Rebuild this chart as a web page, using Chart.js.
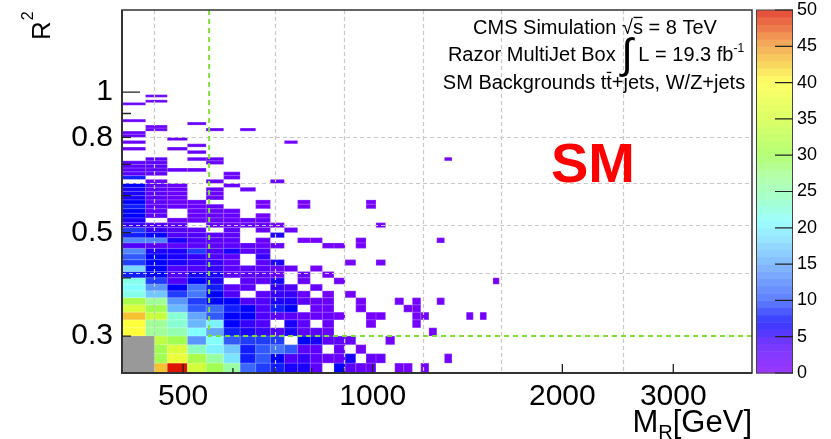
<!DOCTYPE html>
<html>
<head>
<meta charset="utf-8">
<script src="https://cdn.jsdelivr.net/npm/chart.js@4.4.1/dist/chart.umd.min.js"></script>
<style>
  html, body { margin: 0; padding: 0; background: #fff; }
  canvas { display: block; }
</style>
</head>
<body>
<canvas id="razor" width="831" height="439"></canvas>
<script>
// histogram binning: MR in linear 36 GeV bins, R2 in linear 0.0125 bins
const mrStart = 400, mrBinWidth = 36;
const r2Start = 0.25, r2BinWidth = 0.0125;

// event counts, one array per R2 row (row 0 = lowest R2), entries are MR bins from 400 GeV
const counts = [
  [0,43,50,35,30,26,11,9,8,6,6,3,0,7,3,2,2,0,0,1,1,0,1],
  [0,30,38,31,26,19,8,10,7,4,5,3,2,2,6,0,2,2,0,0,0,0,0,0,0,1],
  [0,30,36,24,20,17,8,10,12,10,3,3,0,2,0,1],
  [0,33,30,14,21,10,9,9,9,0,7,6,3,3,2,0,0,0,1],
  [40,27,25,21,15,8,6,5,4,6,3,3,2,0,0,0,0,0,0,0,0,0,0,1],
  [40,27,23,16,20,7,5,4,0,6,3,0,2,0,0,0,1,0,0,0,0,1],
  [43,34,23,15,10,7,7,4,3,3,2,2,2,1,0,0,1,1,0,0,0,1,1,0,0,0,0,0,1,0,1],
  [36,30,16,10,11,8,7,4,8,7,0,2,2,0,0,1,0,0,0,0,1,1],
  [31,27,14,9,7,7,4,4,6,6,3,2,2,0,0,1,0,0,0,1,0,1,0,0,1],
  [22,17,9,12,7,4,0,3,5,5,2,0,1,0,1],
  [21,14,7,12,8,3,3,0,5,4,0,2],
  [22,9,4,7,6,0,3,3,6,0,2,0,0,1,0,0,0,0,0,0,0,0,0,0,0,0,0,0,0,0,0,0,1],
  [8,7,4,6,6,3,3,3,2,0,2,0,1],
  [18,7,4,4,5,3,3,3,2,2,0,1],
  [9,7,6,5,5,3,0,3,6,0,0,0,0,0,1,0,0,1],
  [10,7,6,5,4,3,0,5],
  [13,6,6,9,4,6,3,4],
  [4,3,3,3,3,3,3,2,2,0,0,0,1,1,0,1],
  [13,13,6,4,3,3,0,2,0,0,1,1,0,0,0,1,0,0,0,0,0,0,0,0,1],
  [8,7,4,4,3,3,0,0,6],
  [9,5,4,3,0,3,0,2,0,2],
  [5,4,3,0,2,2,2,2,1,0,0,0,0,0,0,0,0,1],
  [6,0,2,2,2,2,2,2],
  [7,3,0,2,2,2,0,1],
  [7,3,0,2,2,2],
  [8,3,2,2,2,0,0,1,0,0,1,0,0,0,0,0,1],
  [7,3,2,2,0,0,0,1,0,0,1,0,0,0,0,0,1],
  [6,3,2,0,2],
  [6,3,2,0,2],
  [6,3,2,0,2,0,2],
  [7,3,2,0,0,2],
  [0,2,0,0,2,0,0,0,2],
  [8,0,0,0,0,2],
  [3,3,0,0,0,2],
  [3,3,2,2],
  [3,3],
  [3,3,0,0,2],
  [0,3,0,2,2,0,0,0,0,0,0,0,0,0,0,0,0,0,0,0,0,0,0,0,0,1],
  [],
  [0,0,0,2],
  [2,0,2],
  [0,0,0,2],
  [2,0,0,0,0,0,0,0,0,1],
  [0,0,2],
  [2],
  [2],
  [0,2,0,0,2,0,2],
  [0,2],
  [0,0,0,2],
  [2],
  [], [], [], [], [],
  [2],
  [0,2],
  [],
  [0,2]
];

const excludedBox = [400, 450, 0.25, 0.3];
const mrGridLines = [450, 700, 900, 1200, 1600, 2500];
const r2GridLines = [0.41, 0.52, 0.64, 0.8];
const cutMR = 550, cutR2 = 0.3;
const mrTickLabels = [500, 1000, 2000, 3000];
const mrMinorTicks = [600, 700, 800, 900];
const r2TickLabels = [0.3, 0.5, 0.8, 1];
const r2MinorTicks = [0.3, 0.4, 0.5, 0.6, 0.7, 0.8, 0.9];
const zMax = 50;

const FONT = '"Liberation Sans", Arial, Helvetica, sans-serif';

const paletteStops = [
  [0, [128, 0, 255]], [4, [80, 0, 255]], [7, [0, 0, 255]], [10, [48, 90, 255]],
  [14, [90, 150, 255]], [18, [120, 215, 255]], [21, [130, 255, 255]], [24, [140, 255, 190]],
  [27, [160, 255, 150]], [30, [160, 255, 80]], [35, [210, 255, 60]], [40, [255, 255, 60]],
  [43, [245, 195, 50]], [46, [240, 130, 40]], [50, [220, 20, 0]]
];

function palette(v, fade) {
  v = Math.max(0, Math.min(zMax, v));
  let i = 0;
  while (i < paletteStops.length - 2 && v > paletteStops[i + 1][0]) i++;
  const [v0, c0] = paletteStops[i], [v1, c1] = paletteStops[i + 1];
  const t = (v - v0) / (v1 - v0);
  const c = c0.map((a, k) => a + (c1[k] - a) * t);
  const f = fade || 0;
  return 'rgb(' + c.map(a => Math.round(a + (255 - a) * f)).join(',') + ')';
}

// cells as points (bin centres) so the scales see the data
const cells = [];
counts.forEach((row, j) => row.forEach((v, i) => {
  if (v > 0) cells.push({ i, j, v, x: mrStart + mrBinWidth * (i + 0.5), y: r2Start + r2BinWidth * (j + 0.5) });
}));

function drawRuns(ctx, runs, x, baseline, align) {
  let total = 0;
  runs.forEach(r => {
    ctx.font = (r.bold ? 'bold ' : '') + r.size + 'px ' + FONT;
    r.w = ctx.measureText(r.t).width;
    total += r.w;
  });
  let cx = align === 'right' ? x - total : x - total / 2;
  ctx.textAlign = 'left';
  ctx.textBaseline = 'alphabetic';
  runs.forEach(r => {
    ctx.font = (r.bold ? 'bold ' : '') + r.size + 'px ' + FONT;
    ctx.fillText(r.t, cx, baseline + (r.dy || 0));
    if (r.bar) ctx.fillRect(cx + 0.5, baseline - r.size * 0.86, r.w - 1, 1.3);
    cx += r.w;
  });
}

function noPad(s) {
  s.paddingTop = 0; s.paddingBottom = 0; s.paddingLeft = 0; s.paddingRight = 0;
}

const histPlugin = {
  id: 'razorHist',
  beforeDraw(chart) {
    const ctx = chart.ctx;
    ctx.save();
    ctx.fillStyle = '#fff';
    ctx.fillRect(0, 0, chart.width, chart.height);
    ctx.restore();
  },
  afterDatasetsDraw(chart) {
    const ctx = chart.ctx, a = chart.chartArea;
    const xs = chart.scales.x, ys = chart.scales.y, zs = chart.scales.yColor;
    ctx.save();

    // cells
    ctx.save();
    ctx.beginPath();
    ctx.rect(a.left, a.top, a.right - a.left, a.bottom - a.top);
    ctx.clip();
    cells.forEach(c => {
      const x0 = xs.getPixelForValue(mrStart + mrBinWidth * c.i);
      const x1 = xs.getPixelForValue(mrStart + mrBinWidth * (c.i + 1));
      const y0 = ys.getPixelForValue(r2Start + r2BinWidth * (c.j + 1));
      const y1 = ys.getPixelForValue(r2Start + r2BinWidth * c.j);
      ctx.fillStyle = palette(c.v);
      ctx.fillRect(x0, y0, x1 - x0, y1 - y0);
      ctx.strokeStyle = 'rgba(255,255,255,0.18)';
      ctx.lineWidth = 0.6;
      ctx.strokeRect(x0 + 0.3, y0 + 0.3, x1 - x0 - 0.6, y1 - y0 - 0.6);
    });

    // excluded region
    const gx0 = xs.getPixelForValue(excludedBox[0]), gx1 = xs.getPixelForValue(excludedBox[1]);
    const gy0 = ys.getPixelForValue(excludedBox[3]), gy1 = ys.getPixelForValue(excludedBox[2]);
    ctx.fillStyle = '#999999';
    ctx.fillRect(gx0, gy0, gx1 - gx0, gy1 - gy0);

    // dashed grid at box boundaries
    ctx.strokeStyle = '#c8c8c8';
    ctx.lineWidth = 1.2;
    ctx.setLineDash([4, 3]);
    mrGridLines.forEach(v => {
      const px = Math.round(xs.getPixelForValue(v)) + 0.5;
      ctx.beginPath(); ctx.moveTo(px, a.top); ctx.lineTo(px, a.bottom); ctx.stroke();
    });
    r2GridLines.forEach(v => {
      const py = Math.round(ys.getPixelForValue(v)) + 0.5;
      ctx.beginPath(); ctx.moveTo(a.left, py); ctx.lineTo(a.right, py); ctx.stroke();
    });

    // signal region boundary
    ctx.strokeStyle = '#7fe03a';
    ctx.lineWidth = 2;
    ctx.setLineDash([5, 4]);
    const cx = xs.getPixelForValue(cutMR), cy = ys.getPixelForValue(cutR2);
    ctx.beginPath();
    ctx.moveTo(cx, a.top); ctx.lineTo(cx, cy); ctx.lineTo(a.right, cy);
    ctx.stroke();
    ctx.setLineDash([]);
    ctx.restore();

    // frame and inner ticks
    ctx.strokeStyle = '#333';
    ctx.lineWidth = 1.5;
    ctx.strokeRect(a.left, a.top, a.right - a.left, a.bottom - a.top);
    ctx.lineWidth = 2;
    ctx.beginPath();
    ctx.moveTo(a.left, a.top); ctx.lineTo(a.left, a.bottom); ctx.lineTo(a.right, a.bottom);
    ctx.stroke();
    ctx.lineWidth = 1.3;
    ctx.strokeStyle = '#222';
    ctx.beginPath();
    mrTickLabels.forEach(v => { const px = xs.getPixelForValue(v); ctx.moveTo(px, a.bottom); ctx.lineTo(px, a.bottom - 9); });
    mrMinorTicks.forEach(v => { const px = xs.getPixelForValue(v); ctx.moveTo(px, a.bottom); ctx.lineTo(px, a.bottom - 5); });
    r2MinorTicks.forEach(v => { const py = ys.getPixelForValue(v); ctx.moveTo(a.left, py); ctx.lineTo(a.left + 9, py); });
    const p1 = ys.getPixelForValue(1);
    ctx.moveTo(a.left, p1); ctx.lineTo(a.left + 18, p1);
    ctx.stroke();

    // colour bar
    const bx0 = a.right + 4, bx1 = a.right + 41;
    for (let k = 0; k < zMax; k++) {
      const t = zs.getPixelForValue(k + 1), b = zs.getPixelForValue(k);
      ctx.fillStyle = palette(k + 0.5, 0.22);
      ctx.fillRect(bx0, t, bx1 - bx0, b - t + 0.5);
    }
    ctx.strokeStyle = '#444';
    ctx.lineWidth = 1;
    ctx.strokeRect(bx0 + 0.5, zs.getPixelForValue(zMax), bx1 - bx0 - 1, zs.getPixelForValue(0) - zs.getPixelForValue(zMax));
    ctx.strokeStyle = '#222';
    ctx.lineWidth = 1.2;
    ctx.beginPath();
    for (let k = 0; k <= zMax; k += 5) {
      const py = zs.getPixelForValue(k);
      ctx.moveTo(bx1 - 18, py); ctx.lineTo(bx1, py);
    }
    ctx.stroke();

    // text
    ctx.fillStyle = '#000';
    drawRuns(ctx, [{ t: 'CMS Simulation ', size: 20 }, { t: '\u221A', size: 20 }, { t: 's', size: 20, bar: true }, { t: ' = 8 TeV', size: 20 }], 595, 34);
    drawRuns(ctx, [{ t: 'Razor MultiJet Box ', size: 20 }, { t: '\u222B', size: 42, dy: 7 }, { t: ' L = 19.3 fb', size: 20 }, { t: '-1', size: 12, dy: -9 }], 596, 61);
    drawRuns(ctx, [{ t: 'SM Backgrounds t', size: 20 }, { t: 't', size: 20, bar: true }, { t: '+jets, W/Z+jets', size: 20 }], 594, 89);

    ctx.fillStyle = '#ff0000';
    drawRuns(ctx, [{ t: 'SM', size: 56, bold: true }], 593, 182);

    ctx.fillStyle = '#000';
    drawRuns(ctx, [{ t: 'M', size: 31 }, { t: 'R', size: 20, dy: 7 }, { t: '[GeV]', size: 31 }], 752, 432, 'right');

    ctx.save();
    ctx.translate(50, 40);
    ctx.rotate(-Math.PI / 2);
    ctx.textAlign = 'left';
    ctx.textBaseline = 'alphabetic';
    ctx.font = '26px ' + FONT;
    ctx.fillText('R', 0, 0);
    const rw = ctx.measureText('R').width;
    ctx.font = '16px ' + FONT;
    ctx.fillText('2', rw + 1, -17);
    ctx.restore();

    ctx.restore();
  }
};

new Chart(document.getElementById('razor'), {
  type: 'scatter',
  data: { datasets: [{ data: cells, pointRadius: 0, pointHoverRadius: 0 }] },
  options: {
    responsive: false,
    animation: false,
    devicePixelRatio: 1,
    events: [],
    layout: { padding: { top: 10, right: 0, bottom: 0, left: 0 } },
    plugins: { legend: { display: false }, tooltip: { enabled: false } },
    scales: {
      x: {
        type: 'logarithmic', position: 'bottom', min: 400, max: 4000,
        afterBuildTicks: s => { s.ticks = mrTickLabels.map(v => ({ value: v })); },
        afterFit: s => { s.height = 66; noPad(s); },
        grid: { display: false, drawTicks: false }, border: { display: false },
        ticks: { autoSkip: false, maxRotation: 0, padding: 6, color: '#000', font: { family: FONT, size: 30 }, callback: v => String(v) }
      },
      y: {
        type: 'logarithmic', position: 'left', min: 0.25, max: 1.5,
        afterBuildTicks: s => { s.ticks = r2TickLabels.map(v => ({ value: v })); },
        afterFit: s => { s.width = 122; noPad(s); },
        grid: { display: false, drawTicks: false }, border: { display: false },
        ticks: { autoSkip: false, padding: 9, color: '#000', font: { family: FONT, size: 30 }, callback: v => String(v) }
      },
      yColor: {
        axis: 'y', type: 'linear', position: 'right', min: 0, max: zMax,
        afterFit: s => { s.width = 79; noPad(s); },
        grid: { display: false, drawTicks: false }, border: { display: false },
        ticks: { stepSize: 5, autoSkip: false, padding: 45, color: '#000', font: { family: FONT, size: 18 } }
      }
    }
  },
  plugins: [histPlugin]
});
</script>
</body>
</html>
